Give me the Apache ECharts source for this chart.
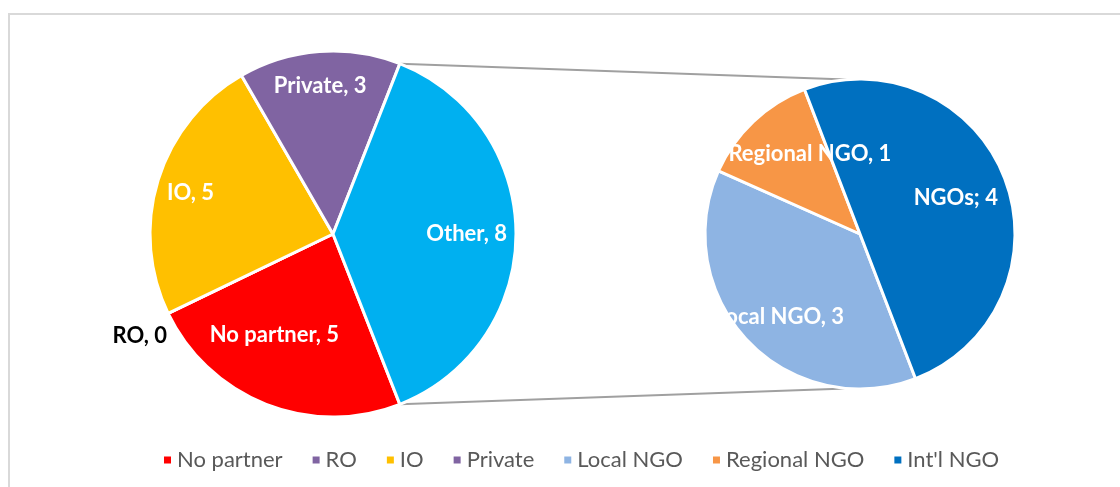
<!DOCTYPE html>
<html>
<head>
<meta charset="utf-8">
<script src="https://cdn.jsdelivr.net/npm/echarts@6/dist/echarts.min.js"></script>
<style>
html,body{margin:0;padding:0;background:#fff;}
#chart{width:1120px;height:487px;}
</style>
</head>
<body>
<div id="chart"></div>
<script>
var partnerNames = ['No partner', 'RO', 'IO', 'Private', 'Other'];
var partnerValues = [5, 0, 5, 3, 8];
var ngoNames = ['Local NGO', 'Regional NGO', "Int'l NGO"];
var ngoValues = [3, 1, 4];
var ngoLabelNames = ['Local NGO', 'Regional NGO', 'NGOs'];
var ngoLabelSeps = [', ', ', ', '; '];
var legendNames = ['No partner', 'RO', 'IO', 'Private', 'Local NGO', 'Regional NGO', "Int'l NGO"];

var partnerColors = ['#FF0000', '#8064A2', '#FFC000', '#8064A2', '#00B0F0'];
var ngoColors = ['#8EB4E3', '#F79646', '#0070C0'];

var leftC = [333, 234], leftR = 183;
var rightC = [860, 234], rightR = 155;

// where each label sits: [radius factor, angle shift from slice middle, align]
var leftSpots = [[0.64, -8.6, 'center'], [1.065, 5.9, 'right'], [0.81, 1.2, 'center'], [0.81, 0.7, 'center'], [0.73, 0, 'center']];
var rightSpots = [[0.545, 35.6, 'right'], [0.61, -11.5, 'center'], [0.66, -0.4, 'center']];

function sum(arr){
    return arr.reduce(function(a, b){ return a + b; }, 0);
}

// Other slice is centred on 3 o'clock
var leftTotal = sum(partnerValues);
var leftStart = 360 * (sum(partnerValues.slice(0, 4)) + partnerValues[4] / 2) / leftTotal;
var rightStart = 291;

function midAngles(values, start){
    var total = sum(values), a = start, out = [];
    values.forEach(function(v){
        var span = v / total * 360;
        out.push(a - span / 2);
        a -= span;
    });
    return out;
}
var leftMids = midAngles(partnerValues, leftStart);
var rightMids = midAngles(ngoValues, rightStart);

function spot(c, r, mid, s){
    var rad = (mid + s[1]) * Math.PI / 180;
    return {
        x: c[0] + s[0] * r * Math.cos(rad),
        y: c[1] - s[0] * r * Math.sin(rad),
        align: s[2],
        verticalAlign: 'middle'
    };
}

function onCircle(c, r, deg){
    var rad = deg * Math.PI / 180;
    return [c[0] + r * Math.cos(rad), c[1] - r * Math.sin(rad)];
}

// connector lines from the Other slice edges to the second pie
var otherTop = leftStart - 360 * sum(partnerValues.slice(0, 4)) / leftTotal;
var otherBottom = leftStart - 360;
var p1 = onCircle(leftC, leftR, otherTop), p2 = onCircle(rightC, rightR, 95);
var p3 = onCircle(leftC, leftR, otherBottom), p4 = onCircle(rightC, rightR, -95);

var labelFont = {
    color: '#fff',
    fontFamily: 'Lato',
    fontWeight: 'bold',
    fontSize: 22
};

var chart = echarts.init(document.getElementById('chart'));
var option = {
    animation: false,
    graphic: [
        {type: 'rect', shape: {x: 9, y: 14, width: 1200, height: 600}, style: {fill: 'none', stroke: '#D9D9D9', lineWidth: 2}, silent: true},
        {type: 'line', shape: {x1: p1[0], y1: p1[1], x2: p2[0], y2: p2[1]}, style: {stroke: '#A0A0A0', lineWidth: 2}, silent: true, z: -1},
        {type: 'line', shape: {x1: p3[0], y1: p3[1], x2: p4[0], y2: p4[1]}, style: {stroke: '#A0A0A0', lineWidth: 2}, silent: true, z: -1}
    ],
    legend: {
        data: legendNames,
        selectedMode: false,
        left: 157,
        top: 444,
        icon: 'rect',
        itemWidth: 9,
        itemHeight: 9,
        itemGap: 28,
        textStyle: {
            color: '#595959',
            fontFamily: 'Lato',
            fontSize: 22
        }
    },
    series: [
        {
            type: 'pie',
            center: leftC,
            radius: leftR,
            startAngle: leftStart,
            clockwise: true,
            emphasis: {disabled: true},
            itemStyle: {borderColor: '#fff', borderWidth: 3},
            label: Object.assign({position: 'inside', formatter: '{b}, {c}'}, labelFont),
            labelLine: {show: false},
            labelLayout: function(p){
                return spot(leftC, leftR, leftMids[p.dataIndex], leftSpots[p.dataIndex]);
            },
            data: partnerNames.map(function(n, i){
                var item = {name: n, value: partnerValues[i], itemStyle: {color: partnerColors[i]}};
                if (partnerValues[i] === 0) item.label = {color: '#000'};
                return item;
            })
        },
        {
            type: 'pie',
            center: rightC,
            radius: rightR,
            startAngle: rightStart,
            clockwise: true,
            emphasis: {disabled: true},
            itemStyle: {borderColor: '#fff', borderWidth: 3},
            label: Object.assign({
                position: 'inside',
                formatter: function(p){
                    return ngoLabelNames[p.dataIndex] + ngoLabelSeps[p.dataIndex] + p.value;
                }
            }, labelFont),
            labelLine: {show: false},
            labelLayout: function(p){
                return spot(rightC, rightR, rightMids[p.dataIndex], rightSpots[p.dataIndex]);
            },
            data: ngoNames.map(function(n, i){
                return {name: n, value: ngoValues[i], itemStyle: {color: ngoColors[i]}};
            })
        }
    ]
};
chart.setOption(option);
</script>
</body>
</html>
